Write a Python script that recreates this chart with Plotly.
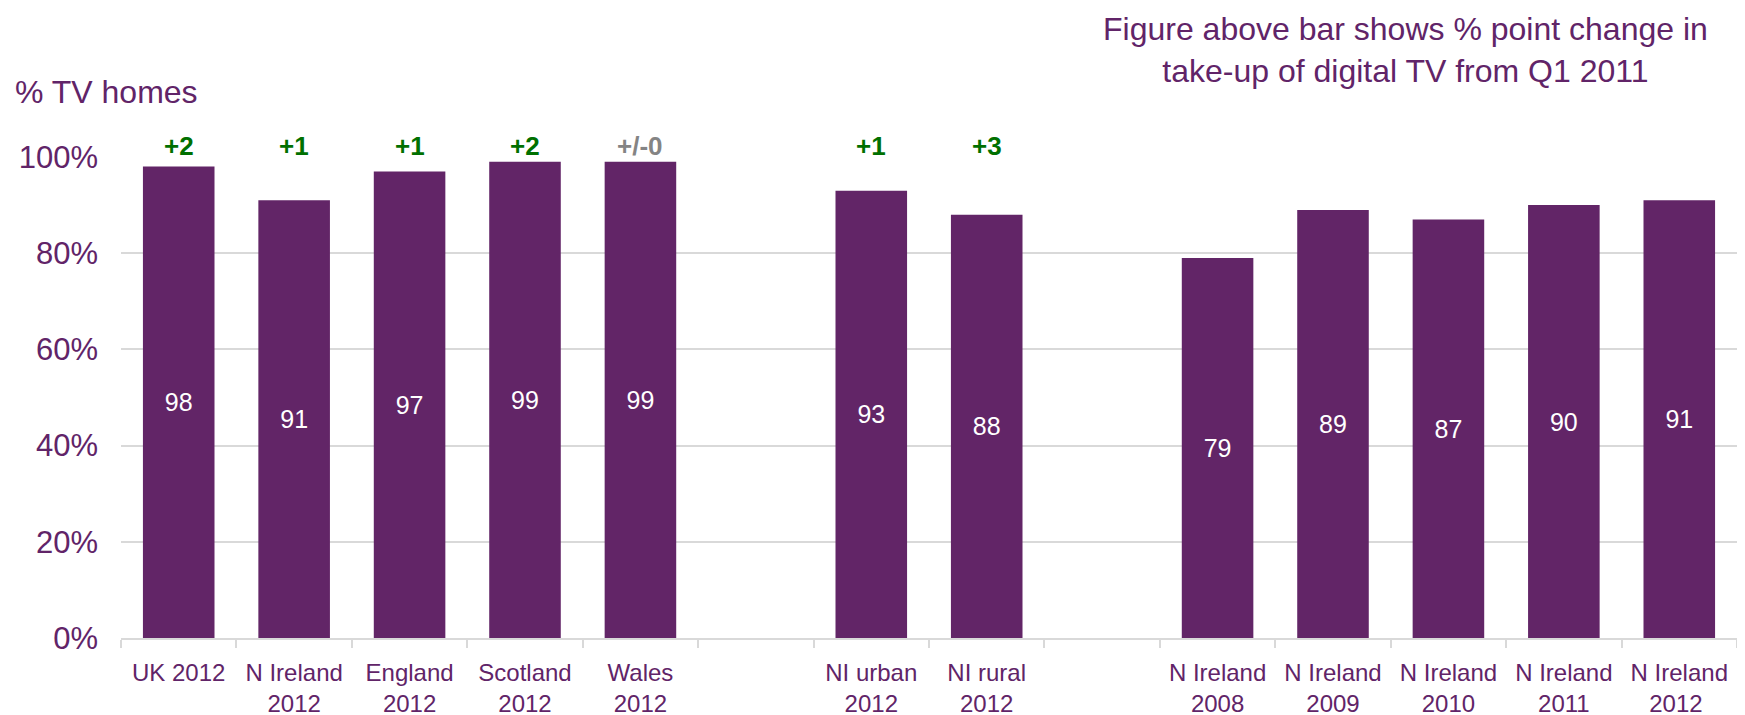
import plotly.graph_objects as go

# ---- data ----
categories = ["UK 2012", "N Ireland<br>2012", "England<br>2012", "Scotland<br>2012", "Wales<br>2012",
              " ",
              "NI urban<br>2012", "NI rural<br>2012",
              "  ",
              "N Ireland<br>2008", "N Ireland<br>2009", "N Ireland<br>2010", "N Ireland<br>2011",
              "N Ireland<br>2012 "]
values = [98, 91, 97, 99, 99, None, 93, 88, None, 79, 89, 87, 90, 91]
changes = ["+2", "+1", "+1", "+2", "+/-0", None, "+1", "+3", None, None, None, None, None, None]
y_ticks = [0, 20, 40, 60, 80, 100]
y_tick_labels = ["0%", "20%", "40%", "60%", "80%", "100%"]

PURPLE = "#622567"
TEXT = "#612468"
GREEN = "#007000"
GREY = "#848484"
GRID = "#D9D9D9"
FONT = "Liberation Sans, Arial, sans-serif"

fig = go.Figure()
fig.add_trace(go.Bar(
    x=categories, y=values,
    marker=dict(color=PURPLE, line=dict(width=0)),
    text=[("" if v is None else str(v)) for v in values],
    textposition="inside", insidetextanchor="middle", textangle=0,
    textfont=dict(color="white", size=25, family=FONT),
    cliponaxis=False,
))

for c, ch in zip(categories, changes):
    if ch is None:
        continue
    fig.add_annotation(
        x=c, y=100, xref="x", yref="y", text="<b>%s</b>" % ch, showarrow=False,
        yanchor="bottom", yshift=-6,
        font=dict(size=26, family=FONT, color=(GREY if ch == "+/-0" else GREEN)),
    )

fig.add_annotation(
    xref="paper", yref="paper", x=0.795, y=1.222, xanchor="center", yanchor="middle",
    text="Figure above bar shows % point change in<br>take-up of digital TV from Q1 2011",
    showarrow=False, align="center", borderpad=0, font=dict(size=32, family=FONT, color=TEXT),
)
fig.add_annotation(
    xref="paper", yref="paper", x=-0.067, y=1.135, xanchor="left", yanchor="middle",
    text="% TV homes", showarrow=False, font=dict(size=32, family=FONT, color=TEXT),
)

fig.update_layout(
    width=1745, height=715,
    margin=dict(l=113, r=16, t=149, b=85, autoexpand=False),
    paper_bgcolor="white", plot_bgcolor="white",
    bargap=0.38, showlegend=False,
    font=dict(family=FONT, color=TEXT),
)
fig.update_xaxes(
    type="category", categoryorder="array", categoryarray=categories,
    showline=True, linecolor=GRID, linewidth=2, automargin=False,
    ticks="outside", tickson="boundaries", ticklen=8, tickwidth=2, tickcolor=GRID,
    showgrid=False, tickfont=dict(size=24, family=FONT, color=TEXT),
    ticklabelstandoff=12,
)
fig.update_yaxes(
    range=[0, 100], tickvals=y_ticks, ticktext=y_tick_labels, automargin=False,
    showgrid=True, gridcolor=GRID, gridwidth=2, zeroline=False, showline=False,
    tickfont=dict(size=31, family=FONT, color=TEXT), ticklabelstandoff=22,
)

fig.write_html("out.html")
